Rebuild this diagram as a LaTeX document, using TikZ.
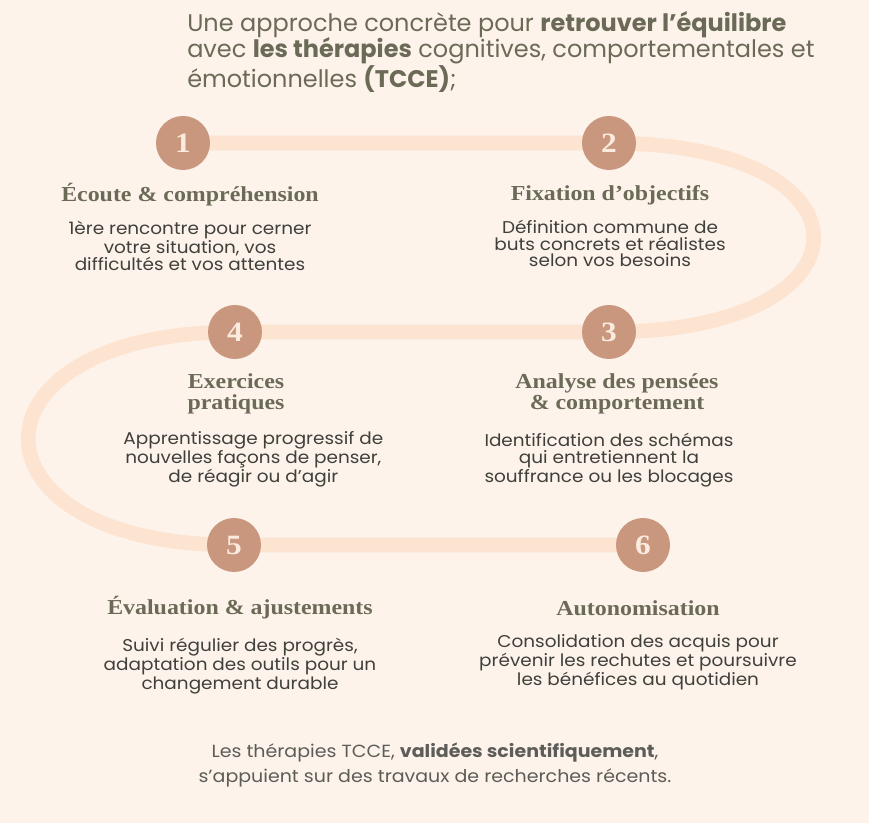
\documentclass[tikz,border=0pt]{standalone}
\usepackage{fontspec}
\setmainfont{Poppins}
\newfontfamily\headfont[FakeStretch=1.12]{Liberation Serif}
\newfontfamily\bodyfont[FakeStretch=1.08]{Poppins}
\usetikzlibrary{positioning, backgrounds}

\definecolor{bgcream}{HTML}{FDF3EB}
\definecolor{trailpeach}{HTML}{FDE4D1}
\definecolor{stepfill}{HTML}{C9967E}
\definecolor{stepnum}{HTML}{FBEBDF}
\definecolor{headolive}{HTML}{6B6A57}
\definecolor{bodygray}{HTML}{3F3F3B}

\begin{document}
\begin{tikzpicture}[
    x=0.75pt, y=-0.75pt,
    node distance=11pt,
    stepdot/.style={circle, fill=stepfill, minimum size=40.5pt, inner sep=0pt, text=stepnum, font=\headfont\bfseries\fontsize{21}{21}\selectfont},
    steptitle/.style={align=center, inner sep=0pt, text=headolive, font=\headfont\bfseries\fontsize{16}{16}\selectfont},
    stepdesc/.style={align=center, inner sep=0pt, text=bodygray, font=\bodyfont\fontsize{12.8}{12.6}\selectfont},
    trail/.style={draw=trailpeach, line width=11pt, line cap=round},
]
\useasboundingbox (0,0) rectangle (869,823);

% ======== TITLE ========
\node[anchor=north west, align=left, inner sep=0pt, text=headolive, font=\fontsize{18}{20}\selectfont] (title) at (187,11)
    {Une approche concrète pour \textbf{retrouver l’équilibre}\\
     avec \textbf{les thérapies} cognitives, comportementales et\\
     émotionnelles \textbf{(TCCE)};};

% ======== STEPS ========
\node[stepdot] (n1) at (183,143) {1};
\node[stepdot] (n2) at (609,143) {2};
\node[stepdot] (n3) at (609,332) {3};
\node[stepdot] (n4) at (235,332) {4};
\node[stepdot] (n5) at (234,545) {5};
\node[stepdot] (n6) at (643,545) {6};

\node[steptitle] (t1) at (190,195) {Écoute \& compréhension};
\node[stepdesc, below=of t1] (d1) {1ère rencontre pour cerner\\ votre situation, vos\\ difficultés et vos attentes};

\node[steptitle] (t2) at (610,195) {Fixation d’objectifs};
\node[stepdesc, below=of t2] (d2) {Définition commune de\\ buts concrets et réalistes\\ selon vos besoins};

\node[steptitle] (t4) at (236,394) {Exercices\\ pratiques};
\node[stepdesc, below=12.5pt of t4, xshift=13pt] (d4) {Apprentissage progressif de\\ nouvelles façons de penser,\\ de réagir ou d’agir};

\node[steptitle] (t3) at (617,394) {Analyse des pensées\\ \& comportement};
\node[stepdesc, below=14pt of t3, xshift=-6pt] (d3) {Identification des schémas\\ qui entretiennent la\\ souffrance ou les blocages};

\node[steptitle] (t5) at (240,608) {Évaluation \& ajustements};
\node[stepdesc, below=14pt of t5] (d5) {Suivi régulier des progrès,\\ adaptation des outils pour un\\ changement durable};

\node[steptitle] (t6) at (638,608) {Autonomisation};
\node[stepdesc, below=14pt of t6] (d6) {Consolidation des acquis pour\\ prévenir les rechutes et poursuivre\\ les bénéfices au quotidien};

% ======== FOOTNOTE ========
\node[align=center, inner sep=0pt, text=bodygray!85, font=\bodyfont\fontsize{13.2}{18.5}\selectfont] (note) at (435,765)
    {Les thérapies TCCE, \textbf{validées scientifiquement},\\ s’appuient sur des travaux de recherches récents.};

% ======== TRAIL (behind) ========
\begin{scope}[on background layer]
\fill[bgcream] (0,0) rectangle (869,823);
\draw[trail] (n1.center) -- (n2.center)
    .. controls +(273,0) and +(273,0) .. (n3.center) -- (n4.center)
    .. controls +(-275,0) and +(-275,0) .. (n5.center) -- (n6.center);
\end{scope}

\end{tikzpicture}
\end{document}
